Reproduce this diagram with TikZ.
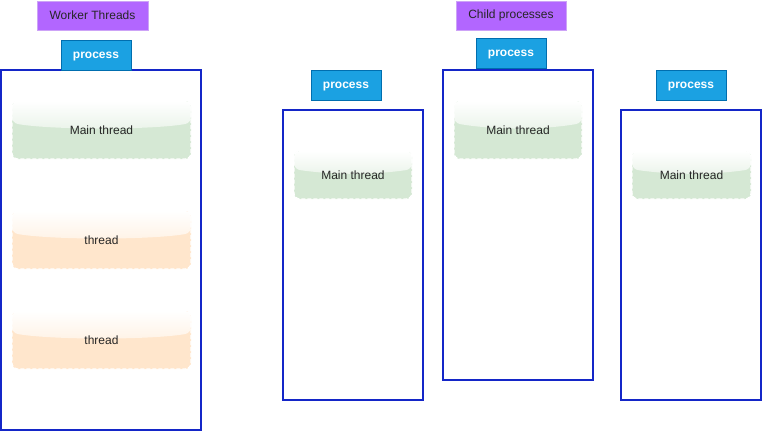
\documentclass[tikz,border=0pt]{standalone}
\usepackage{fontspec}
\setmainfont{Liberation Sans}
\usetikzlibrary{calc}
\definecolor{purp}{HTML}{B266FF}
\definecolor{purpline}{HTML}{CDA3F7}
\definecolor{procfill}{HTML}{1BA1E2}
\definecolor{procline}{HTML}{006EAF}
\definecolor{boxline}{HTML}{1426C8}
\definecolor{grn}{HTML}{D5E8D4}
\definecolor{org}{HTML}{FFE6CC}
\tikzset{
  titlebox/.style={fill=purp, draw=purpline, line width=0.8pt, inner sep=0pt,
    text=black!85, font=\fontsize{12}{14}\selectfont},
  procbox/.style={fill=procfill, draw=procline, line width=0.8pt, inner sep=0pt,
    text=white, font=\bfseries\fontsize{12}{14}\selectfont, minimum width=70pt, minimum height=30pt,
    text height=9pt, text depth=2pt},
  container/.style={draw=boxline, line width=1.6pt, inner sep=0pt},
  glossy/.style={fill=#1, draw=white, dashed, dash pattern=on 4pt off 2pt, line width=1.2pt,
    rounded corners=6pt, inner sep=0pt, text=black!85, font=\fontsize{12}{14}\selectfont,
    path picture={
      \shade[top color=white, bottom color=#1]
        (path picture bounding box.north west) --
        (path picture bounding box.north east) --
        ($(path picture bounding box.north east)!0.38!(path picture bounding box.south east)$)
        .. controls ($(path picture bounding box.north east)!0.5!(path picture bounding box.south east)+(-40pt,0)$)
        and ($(path picture bounding box.north west)!0.5!(path picture bounding box.south west)+(40pt,0)$) ..
        ($(path picture bounding box.north west)!0.38!(path picture bounding box.south west)$) -- cycle;
    }},
}
\begin{document}
\begin{tikzpicture}[x=1pt,y=-1pt]
\useasboundingbox (0,0) rectangle (762,432);
% titles
\node[titlebox, minimum width=111pt, minimum height=29pt] (t1) at (92.5,15.5) {Worker Threads};
\node[titlebox, minimum width=110pt, minimum height=29pt] (t2) at (511,15.5) {Child processes};
% containers
\node[container, minimum width=200pt, minimum height=360pt] (c1) at (101,250) {};
\node[container, minimum width=140pt, minimum height=290pt] (c2) at (353,255) {};
\node[container, minimum width=150pt, minimum height=310pt] (c3) at (518,225) {};
\node[container, minimum width=140pt, minimum height=290pt] (c4) at (691,255) {};
% process labels
\node[procbox] (p1) at (96,55) {process};
\node[procbox] (p2) at (346,85) {process};
\node[procbox] (p3) at (511,53) {process};
\node[procbox] (p4) at (691,85) {process};
% threads
\node[glossy=grn, minimum width=179pt, minimum height=58pt] (m1) at (101.5,130) {Main thread};
\node[glossy=org, minimum width=179pt, minimum height=58pt] (w1) at (101.5,240) {thread};
\node[glossy=org, minimum width=179pt, minimum height=58pt] (w2) at (101.5,340) {thread};
\node[glossy=grn, minimum width=118pt, minimum height=48pt] (m2) at (353,175) {Main thread};
\node[glossy=grn, minimum width=128pt, minimum height=58pt] (m3) at (518,130) {Main thread};
\node[glossy=grn, minimum width=119pt, minimum height=48pt] (m4) at (691.5,175) {Main thread};
\end{tikzpicture}
\end{document}
